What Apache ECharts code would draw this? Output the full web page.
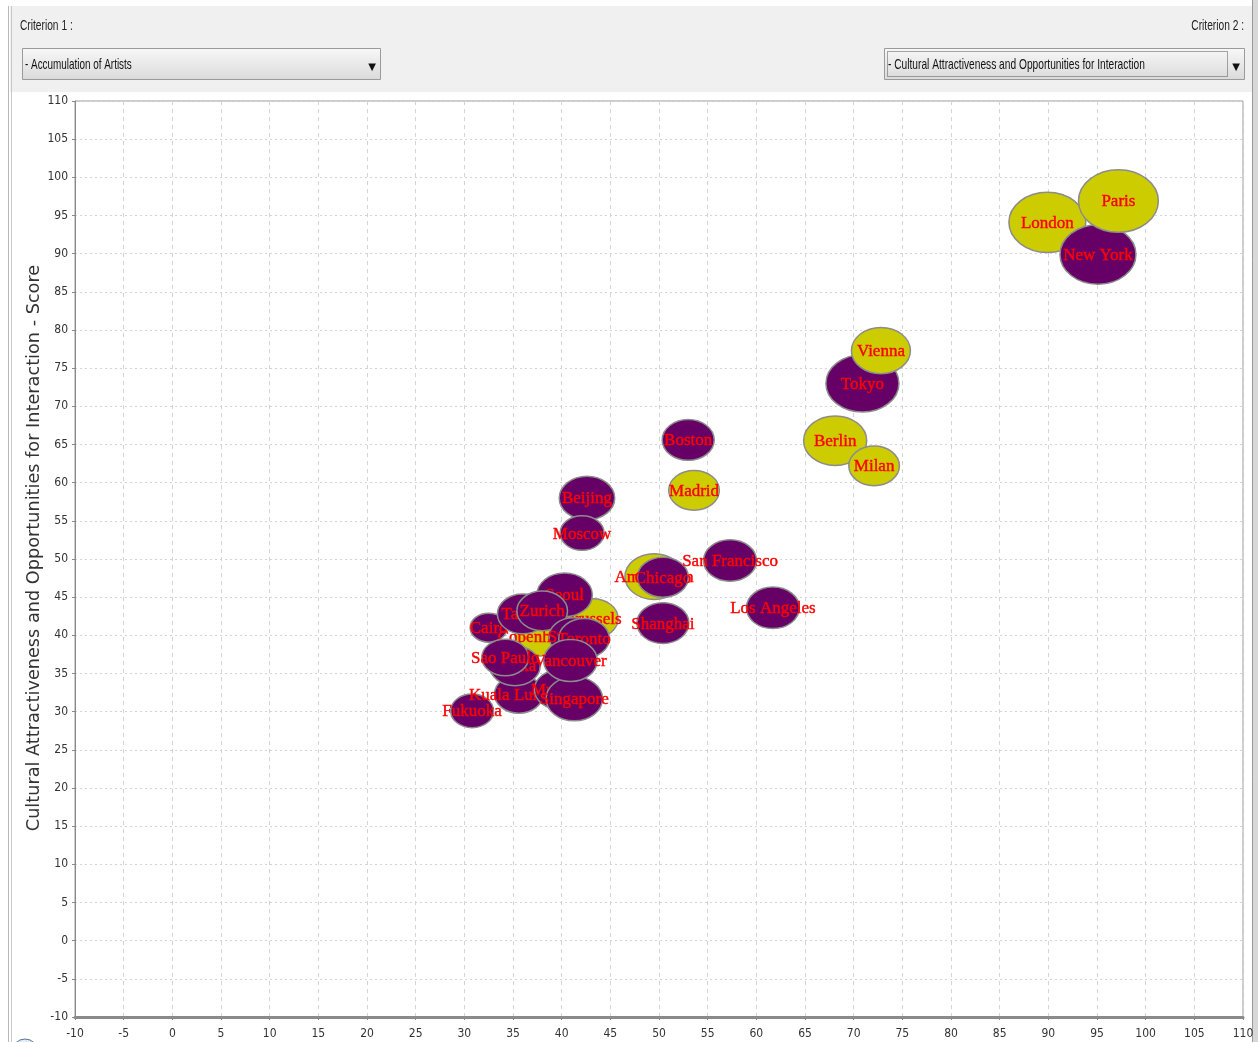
<!DOCTYPE html>
<html>
<head>
<meta charset="utf-8">
<script src="https://cdn.jsdelivr.net/npm/echarts@6/dist/echarts.min.js"></script>
<style>
html,body{margin:0;padding:0;background:#fff;}
#chart{width:1258px;height:1042px;}
</style>
</head>
<body>
<div id="chart"></div>
<script>
// ---- data (drawing order: later items are drawn on top) ----
var cities = ["Fukuoka","Cairo","Copenhagen","Kuala Lumpur","Mumbai","Singapore","Brussels","Seoul","Taipei","Zurich","Sydney","Toronto","Osaka","Sao Paulo","Vancouver","Amsterdam","Chicago","Shanghai","San Francisco","Los Angeles","Beijing","Moscow","Boston","Madrid","Berlin","Milan","Tokyo","Vienna","London","New York","Paris"];
var artists = [30.8,32.5,37.8,35.6,39.8,41.3,43.2,40.3,36.0,38.0,41.2,42.3,35.2,34.2,40.9,49.5,50.4,50.4,57.3,61.7,42.6,42.1,53.0,53.6,68.1,72.1,70.9,72.8,89.9,95.1,97.2];
var culture = [30.1,41.0,39.9,32.3,32.9,31.7,42.2,45.3,42.8,43.2,39.8,39.6,36.0,37.1,36.7,47.7,47.6,41.6,49.8,43.6,58.0,53.4,65.6,59.0,65.5,62.2,73.0,77.3,94.1,89.9,96.9];
var bubbleRadius = [2.2,1.9,2.6,2.5,2.6,2.9,2.6,2.85,2.6,2.6,2.5,2.6,2.6,2.4,2.75,3.0,2.62,2.67,2.72,2.72,2.85,2.26,2.67,2.6,3.24,2.6,3.75,3.03,3.95,3.9,4.1];
var euMember = [0,0,1,0,0,0,1,0,0,0,0,0,0,0,0,1,0,0,0,0,0,0,0,1,1,1,0,1,1,0,1];
var axisTicks = {min:-10, max:110, interval:5};
var criterion1 = "- Accumulation of Artists";
var criterion2 = "- Cultural Attractiveness and Opportunities for Interaction";
var yAxisTitle = "Cultural Attractiveness and Opportunities for Interaction - Score";

var PURPLE = '#660066', YELLOW = '#cccc00';
var points = cities.map(function(c,i){ return [artists[i], culture[i], bubbleRadius[i], i]; });

var tickFont = '"DejaVu Sans Condensed","Liberation Sans",sans-serif';
var uiFont = '"Liberation Sans","DejaVu Sans",sans-serif';

var chart = echarts.init(document.getElementById('chart'), null, {renderer:'canvas'});
var option = {
  animation:false,
  backgroundColor:'#ffffff',
  grid:{left:75, right:15, top:101, bottom:25, show:true, borderColor:'#9a9a9a', borderWidth:1, backgroundColor:'#ffffff'},
  xAxis:{
    type:'value', min:axisTicks.min, max:axisTicks.max, interval:axisTicks.interval,
    axisLine:{show:true, onZero:false, lineStyle:{color:'#8a8a8a', width:3}},
    axisTick:{show:true, length:3, lineStyle:{color:'#8a8a8a'}},
    axisLabel:{color:'#333', fontSize:12, fontFamily:tickFont, margin:11},
    splitLine:{show:true, lineStyle:{color:'#d4d4d4', type:[4,4], width:1}}
  },
  yAxis:{
    type:'value', min:axisTicks.min, max:axisTicks.max, interval:axisTicks.interval,
    axisLine:{show:true, onZero:false, lineStyle:{color:'#8a8a8a', width:1}},
    axisTick:{show:true, length:3, lineStyle:{color:'#8a8a8a'}},
    axisLabel:{color:'#333', fontSize:12, fontFamily:tickFont, margin:7},
    splitLine:{show:true, lineStyle:{color:'#d4d4d4', type:[2,3], width:1}}
  },
  graphic:[
    {type:'rect', shape:{x:10,y:6,width:1242,height:86}, style:{fill:'#f0f0f0'}, silent:true, z:-5},
    {type:'line', shape:{x1:8.5,y1:6,x2:8.5,y2:1042}, style:{stroke:'#b8b8b8', lineWidth:1}, silent:true},
    {type:'line', shape:{x1:11.5,y1:6,x2:11.5,y2:1042}, style:{stroke:'#c8c8c8', lineWidth:1}, silent:true},
    {type:'rect', shape:{x:1252,y:0,width:6,height:1042}, style:{fill:'#d8d8d8'}, silent:true},
    {type:'line', shape:{x1:1252.5,y1:0,x2:1252.5,y2:1042}, style:{stroke:'#999', lineWidth:1}, silent:true},
    {type:'text', x:34, y:548, rotation:Math.PI/2,
      style:{text:yAxisTitle, fill:'#333', font:'17.7px "DejaVu Sans",sans-serif', align:'center', verticalAlign:'middle'}},
    {type:'text', x:20, y:26, scaleX:0.68, style:{text:'Criterion 1 :', fill:'#222', font:'15px '+uiFont, verticalAlign:'middle'}},
    {type:'text', x:1244, y:26, scaleX:0.68, style:{text:'Criterion 2 :', fill:'#222', font:'15px '+uiFont, verticalAlign:'middle', align:'right'}},
    {type:'rect', shape:{x:22.5,y:48.5,width:358,height:31},
      style:{fill:new echarts.graphic.LinearGradient(0,0,0,1,[{offset:0,color:'#f8f8f8'},{offset:1,color:'#dadada'}]), stroke:'#9a9a9a', lineWidth:1}},
    {type:'text', x:25, y:65, scaleX:0.66, style:{text:criterion1, fill:'#111', font:'15px '+uiFont, verticalAlign:'middle'}},
    {type:'text', x:372, y:67, style:{text:'\u25BC', fill:'#111', font:'10px "DejaVu Sans",sans-serif', align:'center', verticalAlign:'middle'}},
    {type:'rect', shape:{x:884.5,y:48.5,width:360,height:31},
      style:{fill:new echarts.graphic.LinearGradient(0,0,0,1,[{offset:0,color:'#f8f8f8'},{offset:1,color:'#dadada'}]), stroke:'#9a9a9a', lineWidth:1}},
    {type:'rect', shape:{x:887.5,y:51.5,width:340,height:25}, style:{fill:'none', stroke:'#555', lineWidth:1, lineDash:[1,1]}},
    {type:'text', x:888, y:65, scaleX:0.68, style:{text:criterion2, fill:'#111', font:'15px '+uiFont, verticalAlign:'middle'}},
    {type:'text', x:1236, y:67, style:{text:'\u25BC', fill:'#111', font:'10px "DejaVu Sans",sans-serif', align:'center', verticalAlign:'middle'}},
    {type:'circle', shape:{cx:25, cy:1052, r:13},
      style:{fill:new echarts.graphic.LinearGradient(0,0,0,1,[{offset:0,color:'#e8f0fa'},{offset:1,color:'#9fb6d6'}]), stroke:'#5a6f90', lineWidth:1}}
  ],
  series:[{
    type:'custom',
    coordinateSystem:'cartesian2d',
    data:points,
    encode:{x:0, y:1},
    clip:false,
    renderItem:function(params, api){
      var i = api.value(3);
      var c = api.coord([api.value(0), api.value(1)]);
      var s = api.size([api.value(2), api.value(2)]);
      return {
        type:'group',
        children:[
          {type:'ellipse', shape:{cx:c[0], cy:c[1], rx:s[0], ry:s[1]},
           style:{fill: euMember[i] ? YELLOW : PURPLE, stroke:'#8c8c8c', lineWidth:1.5}},
          {type:'text', x:c[0], y:c[1]+1,
           style:{text:cities[i], fill:'#ff0000', font:'17px "Liberation Serif","DejaVu Serif",serif',
                  align:'center', verticalAlign:'middle', stroke:'#ff0000', lineWidth:0.4}}
        ]
      };
    }
  }]
};
chart.setOption(option);
</script>
</body>
</html>
